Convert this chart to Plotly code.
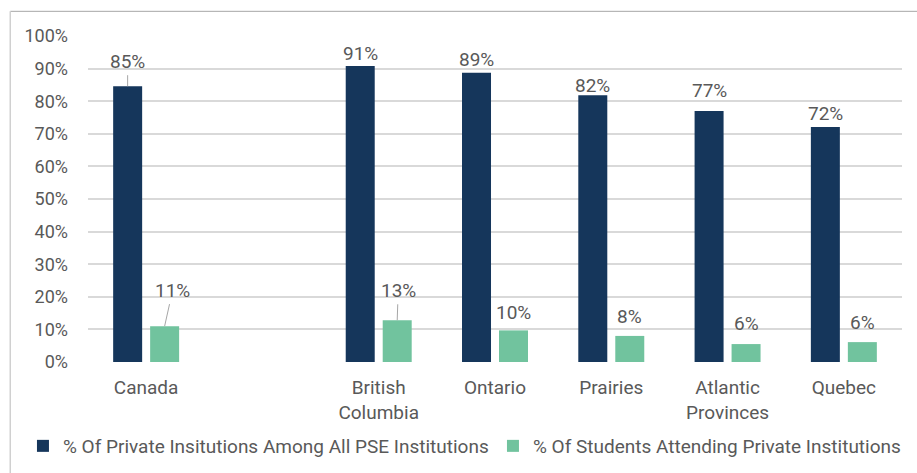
import plotly.graph_objects as go

categories = ["Canada", " ", "British<br>Columbia", "Ontario", "Prairies", "Atlantic<br>Provinces", "Quebec"]
private_share = [84.6, None, 90.8, 88.7, 81.8, 77.0, 72.1]
student_share = [11.0, None, 12.8, 9.7, 8.0, 5.5, 6.1]
series_names = ["% Of Private Insitutions Among All PSE Institutions",
                "% Of Students Attending Private Institutions"]
y_ticks = [0, 10, 20, 30, 40, 50, 60, 70, 80, 90, 100]

# label placement (pixel offsets of label centre from bar top)
dark_ay = [-25, 0, -12, -13, -10, -20, -13]
green_ay = [-36, 0, -30, -18, -19, -21, -20]
green_ax = [8, 0, 1, 0, 0, 0, 0]
dark_leader = [True, False, False, False, False, False, False]
green_leader = [True, False, True, False, False, False, False]

DARK = "#15365B"
GREEN = "#71C39E"
TXT = "#595959"
FONT = "Roboto"

fig = go.Figure()
fig.add_bar(x=categories, y=private_share, name=series_names[0], marker_color=DARK,
            marker_line_width=0, legend="legend")
fig.add_bar(x=categories, y=student_share, name=series_names[1], marker_color=GREEN,
            marker_line_width=0, legend="legend2")

annotations = []
for i, c in enumerate(categories):
    for vals, ays, axs, leaders, shift in (
        (private_share, dark_ay, [0] * 7, dark_leader, -18.5),
        (student_share, green_ay, green_ax, green_leader, 18.5),
    ):
        v = vals[i]
        if v is None:
            continue
        annotations.append(dict(
            x=c, y=v, xref="x", yref="y", xshift=shift,
            text=f"{round(v):.0f}%", showarrow=True, arrowhead=0, arrowwidth=1,
            arrowcolor="#A6A6A6" if leaders[i] else "rgba(0,0,0,0)",
            standoff=0, startstandoff=1, ax=axs[i], ay=ays[i],
            font=dict(family=FONT, size=19, color=TXT),
        ))

legend_common = dict(orientation="h", y=-0.2577, yanchor="middle", xanchor="left",
                     font=dict(family=FONT, size=19, color=TXT), itemwidth=30,
                     bgcolor="rgba(0,0,0,0)")

fig.update_layout(
    width=917, height=473,
    margin=dict(l=88, r=15, t=36, b=111, autoexpand=False),
    paper_bgcolor="white", plot_bgcolor="white",
    barmode="group", bargap=0.364, bargroupgap=0.216,
    font=dict(family=FONT, size=19, color=TXT),
    showlegend=True,
    legend=dict(x=-0.0799, **legend_common),
    legend2=dict(x=0.4975, **legend_common),
    annotations=annotations,
    shapes=[
        dict(type="line", xref="paper", yref="paper", x0=-0.0955, x1=1.1, y0=1.0757, y1=1.0757,
             line=dict(color="#A6A6A6", width=1)),
        dict(type="line", xref="paper", yref="paper", x0=-0.0955, x1=-0.0955, y0=1.0757, y1=-0.4,
             line=dict(color="#D0D0D0", width=1.5)),
    ],
)
fig.update_xaxes(type="category", showgrid=False, showline=False, zeroline=False,
                 tickfont=dict(family=FONT, size=19, color=TXT), ticklabelstandoff=12)
fig.update_yaxes(range=[0, 100], tickvals=y_ticks, ticktext=[f"{t}%" for t in y_ticks],
                 showgrid=True, gridcolor="#D9D9D9", gridwidth=1.5, zeroline=False,
                 showline=False, tickfont=dict(family=FONT, size=18, color=TXT),
                 ticklabelstandoff=19)

fig.write_html("out.html", config={"displayModeBar": False},
               post_script="document.body.style.margin='0';document.body.style.overflow='hidden';")
